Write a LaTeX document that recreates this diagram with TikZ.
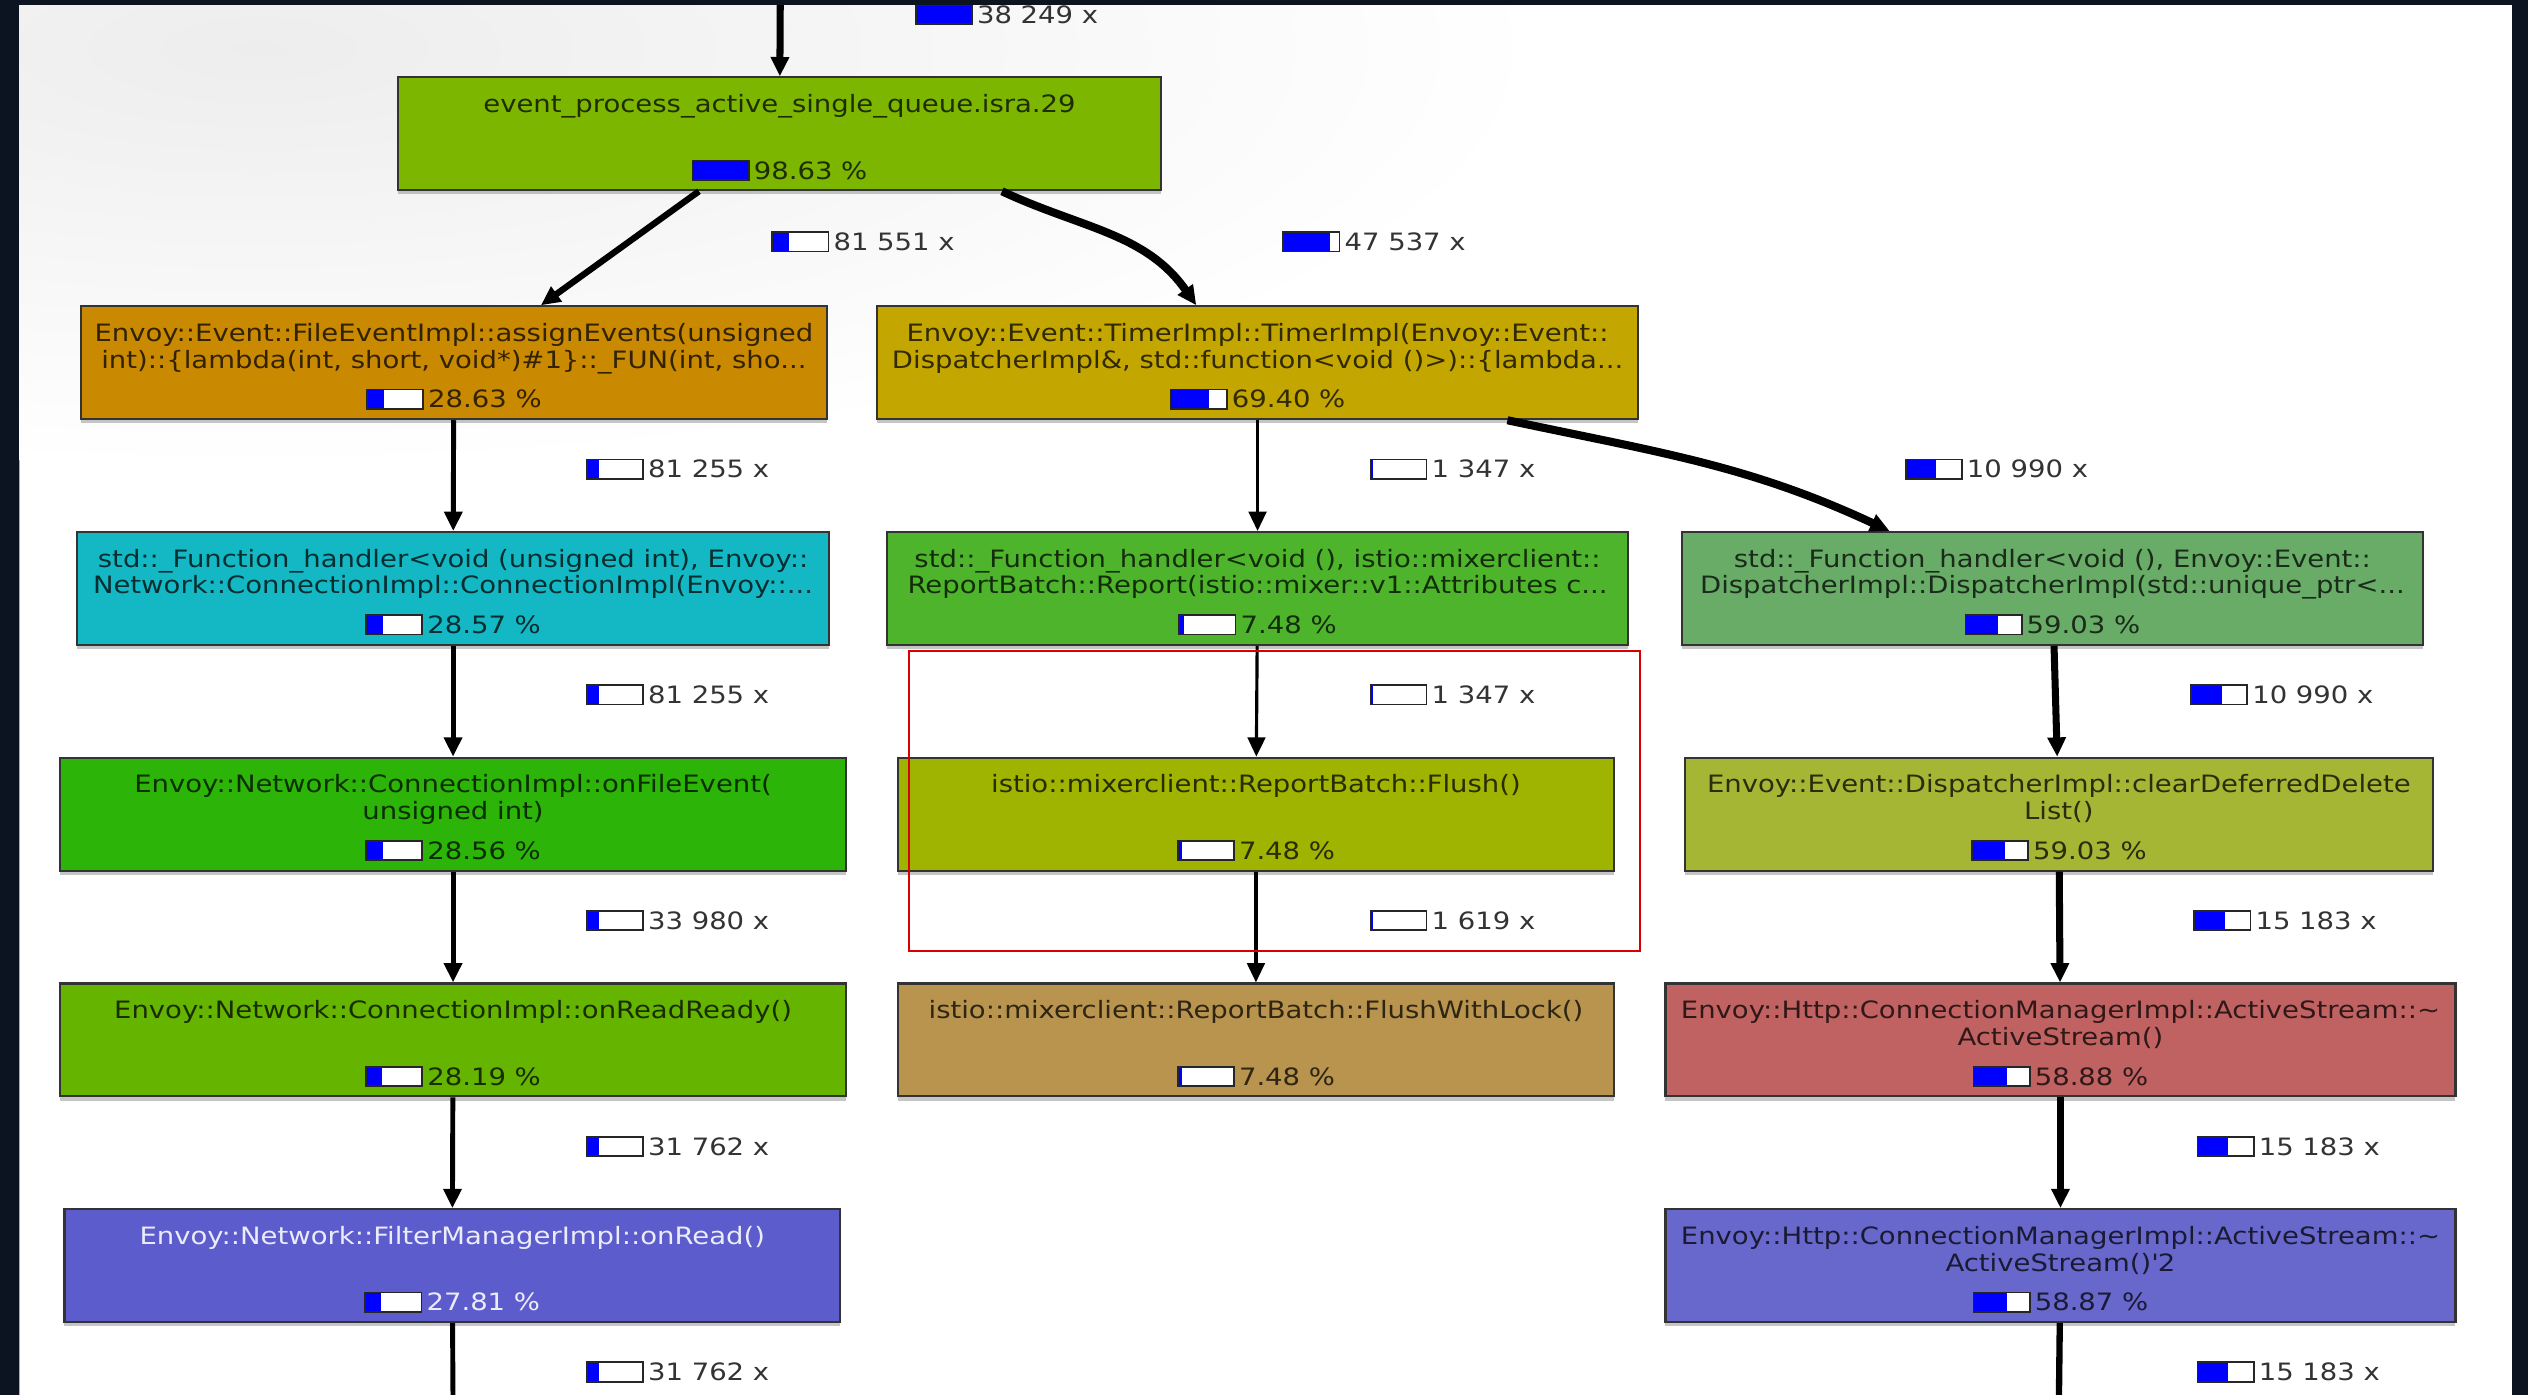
\documentclass[tikz,border=0pt]{standalone}
\usepackage{fontspec}
\setmainfont{DejaVu Sans}[FakeStretch=1.15]
\usetikzlibrary{arrows.meta,shadows}

\newlength\px  \setlength\px{0.016122cm}
\newlength\pbw \setlength\pbw{15.5pt}
\newlength\pbh \setlength\pbh{5pt}
% little usage bar: blue part = share
\newcommand\pbar[1]{{\setlength\fboxsep{0pt}\setlength\fboxrule{.5pt}\color{black!85}%
  \fbox{\color{blue}\rule{#1\pbw}{\pbh}\color{white}\rule{\dimexpr\pbw-#1\pbw\relax}{\pbh}}}\hspace{1.2pt}}

\definecolor{bgdark}{RGB}{12,20,34}
\definecolor{cA}{RGB}{124,182,0}
\definecolor{cB}{RGB}{201,137,0}
\definecolor{cC}{RGB}{196,166,0}
\definecolor{cD}{RGB}{20,184,196}
\definecolor{cE}{RGB}{78,180,44}
\definecolor{cF}{RGB}{104,172,104}
\definecolor{cG}{RGB}{44,180,8}
\definecolor{cH}{RGB}{158,180,0}
\definecolor{cI}{RGB}{164,182,52}
\definecolor{cJ}{RGB}{100,180,0}
\definecolor{cK}{RGB}{184,148,78}
\definecolor{cL}{RGB}{192,98,98}
\definecolor{cM}{RGB}{92,92,204}
\definecolor{cN}{RGB}{104,104,204}
\colorlet{tA}{cA!25!black}
\colorlet{tB}{cB!25!black}
\colorlet{tC}{cC!25!black}
\colorlet{tD}{cD!25!black}
\colorlet{tE}{cE!25!black}
\colorlet{tF}{cF!25!black}
\colorlet{tG}{cG!25!black}
\colorlet{tH}{cH!25!black}
\colorlet{tI}{cI!25!black}
\colorlet{tJ}{cJ!25!black}
\colorlet{tK}{cK!25!black}
\colorlet{tL}{cL!25!black}
\colorlet{tM}{white!88!cM}
\colorlet{tN}{cN!25!black}

\tikzset{
  fn/.style={rectangle, draw=black!80, line width=.6pt, fill=#1, minimum height=70\px,
    inner sep=0pt, drop shadow={shadow xshift=0pt, shadow yshift=-1.2pt, opacity=.45}},
  fnline/.style 2 args={anchor=base, yshift=-#2\px, text=#1, inner sep=0pt},
  fnpct/.style={anchor=base, yshift=7.6\px, text=#1, inner sep=0pt},
  cnt/.style={anchor=west, inner sep=0pt, text=black!80},
  call/.style={line width=1.4pt, -{Triangle[length=5.5pt, width=5pt]}},
  thincall/.style={call, line width=.9pt},
  hotcall/.style={call, line width=2.3pt},
  hilite/.style={draw=red!85!black, line width=.6pt},
}

\begin{document}
\begin{tikzpicture}[x=\px, y=-\px, font=\fontsize{6.8}{7.6}\selectfont]
  \useasboundingbox (0,0) rectangle (1568,865);
  \fill[bgdark] (0,0) rectangle (1568,865);
  \begin{scope}
    \clip (12,3) rectangle (1558,866);
    \fill[white] (12,3) rectangle (1558,866);
    \shade[inner color=black!7, outer color=white] (160,30) ellipse [x radius=800, y radius=260];
  \end{scope}

  % top row
  \node[fn=cA, minimum width=473\px,
    label={[fnline={tA}{22.5}]north:{event\_process\_active\_single\_queue.isra.29}},
    label={[fnpct=tA]south:{\pbar{1}98.63 \%}}] (A) at (483.5,83) {};

  \node[fn=cB, minimum width=463\px,
    label={[fnline={tB}{22.5}]north:{Envoy::Event::FileEventImpl::assignEvents(unsigned}},
    label={[fnline={tB}{39}]north:{int)::\{lambda(int, short, void*)\#1\}::\_FUN(int, sho...}},
    label={[fnpct=tB]south:{\pbar{.29}28.63 \%}}] (B) at (281.5,225) {};
  \node[fn=cC, minimum width=472\px,
    label={[fnline={tC}{22.5}]north:{Envoy::Event::TimerImpl::TimerImpl(Envoy::Event::}},
    label={[fnline={tC}{39}]north:{DispatcherImpl\&, std::function<void ()>)::\{lambda...}},
    label={[fnpct=tC]south:{\pbar{.69}69.40 \%}}] (C) at (780,225) {};

  \node[fn=cD, minimum width=466\px,
    label={[fnline={tD}{22.5}]north:{std::\_Function\_handler<void (unsigned int), Envoy::}},
    label={[fnline={tD}{39}]north:{Network::ConnectionImpl::ConnectionImpl(Envoy::...}},
    label={[fnpct=tD]south:{\pbar{.29}28.57 \%}}] (D) at (281,365) {};
  \node[fn=cE, minimum width=460\px,
    label={[fnline={tE}{22.5}]north:{std::\_Function\_handler<void (), istio::mixerclient::}},
    label={[fnline={tE}{39}]north:{ReportBatch::Report(istio::mixer::v1::Attributes c...}},
    label={[fnpct=tE]south:{\pbar{.07}7.48 \%}}] (E) at (780,365) {};
  \node[fn=cF, minimum width=460\px,
    label={[fnline={tF}{22.5}]north:{std::\_Function\_handler<void (), Envoy::Event::}},
    label={[fnline={tF}{39}]north:{DispatcherImpl::DispatcherImpl(std::unique\_ptr<...}},
    label={[fnpct=tF]south:{\pbar{.59}59.03 \%}}] (F) at (1273,365) {};

  \node[fn=cG, minimum width=488\px,
    label={[fnline={tG}{22.5}]north:{Envoy::Network::ConnectionImpl::onFileEvent(}},
    label={[fnline={tG}{39}]north:{unsigned int)}},
    label={[fnpct=tG]south:{\pbar{.29}28.56 \%}}] (G) at (281,505) {};
  \node[fn=cH, minimum width=444\px,
    label={[fnline={tH}{22.5}]north:{istio::mixerclient::ReportBatch::Flush()}},
    label={[fnpct=tH]south:{\pbar{.07}7.48 \%}}] (H) at (779,505) {};
  \node[fn=cI, minimum width=464\px,
    label={[fnline={tI}{22.5}]north:{Envoy::Event::DispatcherImpl::clearDeferredDelete}},
    label={[fnline={tI}{39}]north:{List()}},
    label={[fnpct=tI]south:{\pbar{.59}59.03 \%}}] (I) at (1277,505) {};

  \node[fn=cJ, minimum width=488\px,
    label={[fnline={tJ}{22.5}]north:{Envoy::Network::ConnectionImpl::onReadReady()}},
    label={[fnpct=tJ]south:{\pbar{.28}28.19 \%}}] (J) at (281,645) {};
  \node[fn=cK, minimum width=444\px,
    label={[fnline={tK}{22.5}]north:{istio::mixerclient::ReportBatch::FlushWithLock()}},
    label={[fnpct=tK]south:{\pbar{.07}7.48 \%}}] (K) at (779,645) {};
  \node[fn=cL, minimum width=490\px,
    label={[fnline={tL}{22.5}]north:{Envoy::Http::ConnectionManagerImpl::ActiveStream::\textasciitilde}},
    label={[fnline={tL}{39}]north:{ActiveStream()}},
    label={[fnpct=tL]south:{\pbar{.59}58.88 \%}}] (L) at (1278,645) {};

  \node[fn=cM, minimum width=481\px,
    label={[fnline={tM}{22.5}]north:{Envoy::Network::FilterManagerImpl::onRead()}},
    label={[fnpct=tM]south:{\pbar{.28}27.81 \%}}] (M) at (280.5,785) {};
  \node[fn=cN, minimum width=490\px,
    label={[fnline={tN}{22.5}]north:{Envoy::Http::ConnectionManagerImpl::ActiveStream::\textasciitilde}},
    label={[fnline={tN}{39}]north:{ActiveStream()\textquotesingle 2}},
    label={[fnpct=tN]south:{\pbar{.59}58.87 \%}}] (N) at (1278,785) {};

  % calls
  \coordinate (in) at (484,-4);
  \coordinate (outM) at (281,872);
  \coordinate (outN) at (1277,872);
  \draw[call, line width=2pt] (in) -- (A);
  \draw[call, line width=1.8pt] ([xshift=-50\px]A.south) -- ([xshift=54\px]B.north);
  \draw[hotcall] ([xshift=138\px]A.south) to[out=-25, in=125] ([xshift=-38\px]C.north);
  \draw[call] (B) -- (D);
  \draw[thincall] (C) -- (E);
  \draw[hotcall] ([xshift=155\px]C.south) to[out=-12, in=155] ([xshift=-101\px]F.north);
  \draw[call] (D) -- (G);
  \draw[thincall] (E) -- (H);
  \draw[call, line width=2pt] (F) -- (I);
  \draw[call] (G) -- (J);
  \draw[thincall] (H) -- (K);
  \draw[call, line width=2pt] (I) -- (L);
  \draw[call] (J) -- (M);
  \draw[call, line width=2pt] (L) -- (N);
  \draw[call, -] (M) -- (outM);
  \draw[call, -, line width=1.8pt] (N) -- (outN);

  % call counts
  \node[cnt] (nin) at (567,9) {\pbar{1}38 249 x};
  \node[cnt] (nAB) at (478,150) {\pbar{.3}81 551 x};
  \node[cnt] (nAC) at (795,150) {\pbar{.85}47 537 x};
  \node[cnt] (nBD) at (363,291) {\pbar{.2}81 255 x};
  \node[cnt] (nCE) at (849,291) {\pbar{.04}1 347 x};
  \node[cnt] (nCF) at (1181,291) {\pbar{.55}10 990 x};
  \node[cnt] (nDG) at (363,431) {\pbar{.2}81 255 x};
  \node[cnt] (nEH) at (849,431) {\pbar{.04}1 347 x};
  \node[cnt] (nFI) at (1358,431) {\pbar{.55}10 990 x};
  \node[cnt] (nGJ) at (363,571) {\pbar{.2}33 980 x};
  \node[cnt] (nHK) at (849,571) {\pbar{.04}1 619 x};
  \node[cnt] (nIL) at (1360,571) {\pbar{.55}15 183 x};
  \node[cnt] (nJM) at (363,711) {\pbar{.2}31 762 x};
  \node[cnt] (nLN) at (1362,711) {\pbar{.55}15 183 x};
  \node[cnt] (nMo) at (363,851) {\pbar{.2}31 762 x};
  \node[cnt] (nNo) at (1362,851) {\pbar{.55}15 183 x};

  % highlighted part
  \draw[hilite] (564,404) rectangle (1017,590);

  \fill[bgdark] (0,0) rectangle (1568,3);
\end{tikzpicture}
\end{document}
